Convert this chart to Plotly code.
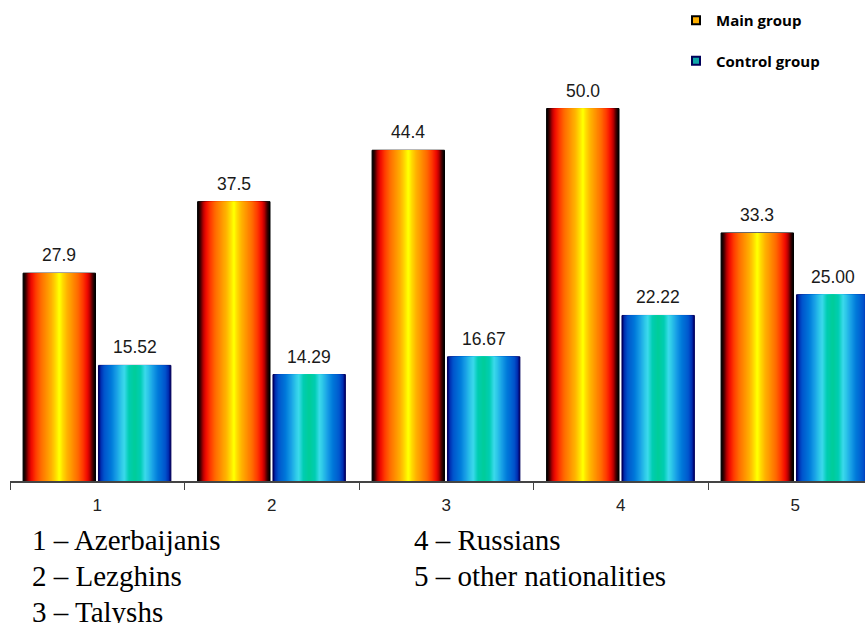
import plotly.graph_objects as go

# ---- data ----
categories = ["1", "2", "3", "4", "5"]
main_group = [27.9, 37.5, 44.4, 50.0, 33.3]
control_group = [15.52, 14.29, 16.67, 22.22, 25.00]
main_fmt = "{:.1f}"
control_fmt = "{:.2f}"
nationalities = [
    "1 – Azerbaijanis",
    "2 – Lezghins",
    "3 – Talyshs",
    "4 – Russians",
    "5 – other nationalities",
]

# ---- geometry (pixels) ----
W, H = 865, 623
ML, MB, MT, MR = 10, 142, 0, 0
PLOT_W = W - ML - MR
PLOT_H = H - MB - MT
PX_PER_CAT = 174.5
PX_PER_UNIT = 7.45
X_RANGE = [-0.5, -0.5 + PLOT_W / PX_PER_CAT]
Y_RANGE = [0, PLOT_H / PX_PER_UNIT]

BAR_W = 0.415
MAIN_CENTER = -0.01 - BAR_W / 2
CTRL_CENTER = 0.007 + BAR_W / 2

# cylinder shading stops, edge (0) -> centre (1)
main_stops = [
    (0.00, (0, 0, 0)),
    (0.07, (70, 0, 0)),
    (0.14, (175, 0, 0)),
    (0.22, (240, 10, 0)),
    (0.35, (255, 60, 0)),
    (0.50, (255, 110, 0)),
    (0.65, (255, 145, 0)),
    (0.80, (255, 180, 0)),
    (0.92, (255, 220, 0)),
    (1.00, (255, 255, 0)),
]
ctrl_stops = [
    (0.00, (0, 0, 110)),
    (0.05, (0, 45, 175)),
    (0.15, (0, 85, 205)),
    (0.35, (0, 122, 218)),
    (0.50, (25, 160, 230)),
    (0.63, (45, 198, 232)),
    (0.72, (60, 218, 235)),
    (0.85, (0, 205, 178)),
    (1.00, (0, 205, 155)),
]


def sample(stops, t):
    for (t0, c0), (t1, c1) in zip(stops[:-1], stops[1:]):
        if t0 <= t <= t1:
            f = 0 if t1 == t0 else (t - t0) / (t1 - t0)
            c = [round(a + (b - a) * f) for a, b in zip(c0, c1)]
            return "rgb({},{},{})".format(*c)
    c = stops[-1][1]
    return "rgb({},{},{})".format(*c)


LEVELS = 36
fig = go.Figure()


def add_cylinder(values, center, stops, edge_color):
    for k in range(LEVELS):
        w = BAR_W * (1 - k / LEVELS)
        fig.add_trace(go.Bar(
            x=categories,
            y=values,
            width=[w] * len(values),
            offset=[center - w / 2] * len(values),
            marker=dict(
                color=sample(stops, k / (LEVELS - 1)),
                line=dict(color=edge_color, width=1 if k == 0 else 0),
            ),
            showlegend=False,
            hoverinfo="skip",
        ))


add_cylinder(main_group, MAIN_CENTER, main_stops, "#000000")
add_cylinder(control_group, CTRL_CENTER, ctrl_stops, "#00005a")

# legend entries (no visible marks of their own)
fig.add_trace(go.Scatter(x=categories, y=[None] * len(categories), name="Main group",
                         mode="markers", legendgroup="a", hoverinfo="skip",
                         marker=dict(symbol="square", size=8, color="#ffb000",
                                     line=dict(color="#000000", width=2))))
fig.add_trace(go.Scatter(x=categories, y=[None] * len(categories), name="Control group",
                         mode="markers", legendgroup="b", hoverinfo="skip",
                         marker=dict(symbol="square", size=8, color="#10a8a8",
                                     line=dict(color="#00005a", width=2))))

annotations = []
for i, (m, c) in enumerate(zip(main_group, control_group)):
    for val, ctr, fmt in ((m, MAIN_CENTER, main_fmt), (c, CTRL_CENTER, control_fmt)):
        annotations.append(dict(
            x=i + ctr, y=val, xref="x", yref="y",
            text=fmt.format(val), showarrow=False,
            yanchor="middle", xanchor="center", yshift=18,
            font=dict(family="Liberation Sans, Arial", size=17.5, color="#1a1a1a"),
        ))

# nationality key under the axis
key_rows = [(30, 539.5), (30, 576), (30, 612), (412, 539.5), (412, 576)]
for txt, (px, py) in zip(nationalities, key_rows):
    annotations.append(dict(
        x=(px - ML) / PLOT_W, y=(MT + PLOT_H - py) / PLOT_H,
        xref="paper", yref="paper", text=txt, showarrow=False,
        xanchor="left", yanchor="middle",
        font=dict(family="Times New Roman, Liberation Serif, serif", size=29,
                  color="#000000"),
    ))

fig.update_layout(
    width=W, height=H,
    margin=dict(l=ML, r=MR, t=MT, b=MB),
    paper_bgcolor="white", plot_bgcolor="white",
    barmode="overlay",
    annotations=annotations,
    showlegend=True,
    legend=dict(
        x=(676 - ML) / PLOT_W, y=1 - 4 / PLOT_H, xanchor="left", yanchor="top",
        traceorder="grouped", tracegroupgap=18,
        font=dict(family="Open Sans", size=15, color="#000000", weight="bold"),
        bgcolor="rgba(0,0,0,0)",
    ),
    xaxis=dict(
        type="category", range=X_RANGE, tickson="boundaries",
        showline=True, linecolor="#444444", linewidth=1.5,
        ticks="outside", ticklen=7, tickcolor="#444444", tickwidth=1,
        ticklabelstandoff=8,
        showgrid=False, zeroline=False,
        tickfont=dict(family="Liberation Sans, Arial", size=17, color="#222222"),
    ),
    yaxis=dict(
        range=Y_RANGE, visible=False, showgrid=False, zeroline=False,
    ),
)

fig.write_html("out.html")
